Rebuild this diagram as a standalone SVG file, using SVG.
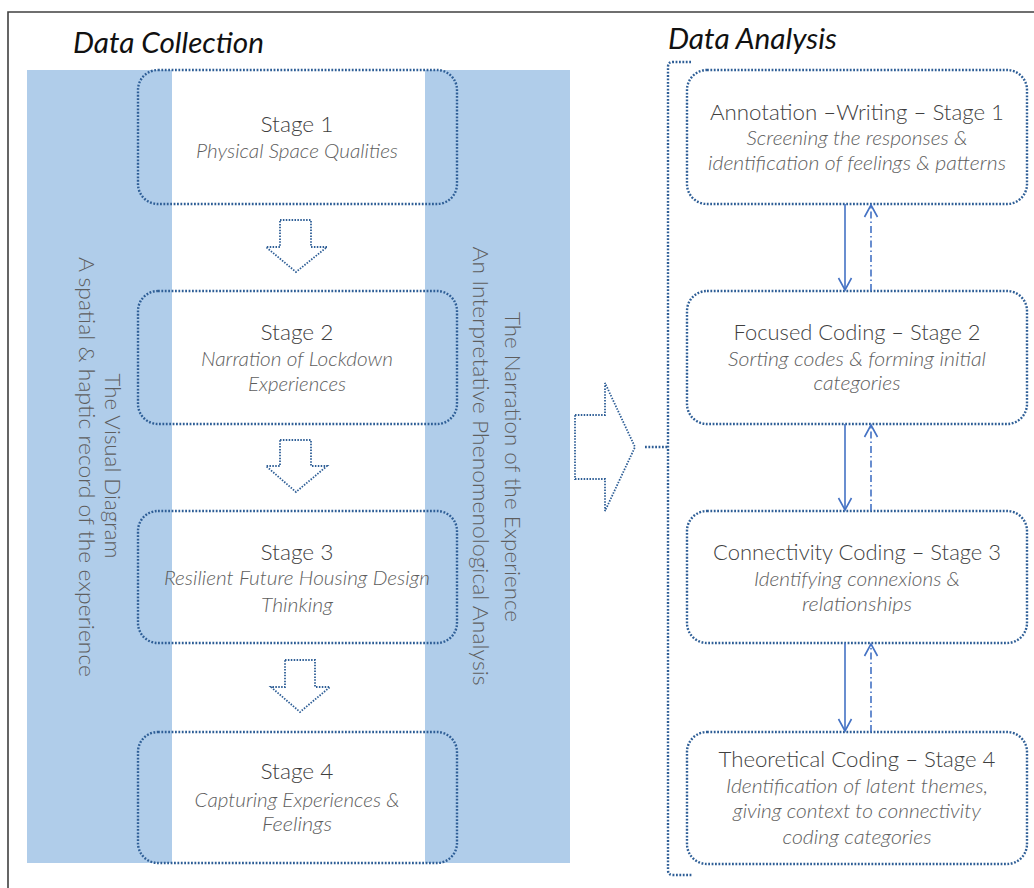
<svg xmlns="http://www.w3.org/2000/svg" width="1034" height="888" viewBox="0 0 1034 888">
<defs>
<style>
.frame{fill:none;stroke:#404040;stroke-width:1.6}
.band{fill:#B0CDEA}
.strip{fill:#FFFFFF}
.box{fill:none;stroke:#2E5E96;stroke-width:2.4;stroke-dasharray:1.8 1.6}
.harrow{fill:none;stroke:#2E5E96;stroke-width:1.8;stroke-dasharray:1.5 1.4}
.head{font-family:Lato,"Liberation Sans",sans-serif;font-style:italic;font-size:28px;fill:#111}
.ttl{font-family:Lato,"Liberation Sans",sans-serif;font-weight:300;font-size:22px;fill:#3F3F3F;text-anchor:middle}
.sub{font-family:Lato,"Liberation Sans",sans-serif;font-weight:300;font-style:italic;font-size:20px;fill:#5E5E5E;text-anchor:middle}
.vert{font-family:Lato,"Liberation Sans",sans-serif;font-weight:300;font-size:22px;fill:#5E5E5E;text-anchor:middle}
.solid{fill:none;stroke:#4472C4;stroke-width:1.6}
.dashdot{fill:none;stroke:#4472C4;stroke-width:1.6;stroke-dasharray:7 3 1.5 3}
</style>
<marker id="chev" markerUnits="userSpaceOnUse" markerWidth="16" markerHeight="16" viewBox="-14 -8 16 16" refX="0" refY="0" orient="auto">
<path d="M-12,-6.5 L0,0 L-12,6.5" fill="none" stroke="#4472C4" stroke-width="1.6"/>
</marker>
</defs>

<path class="frame" d="M8,888 V12 H1034"/>

<g id="collection-panel">
<rect class="band" x="27" y="70" width="543" height="793"/>
<rect class="strip" x="172" y="70" width="253" height="793"/>
<text class="head" x="73" y="53" textLength="191" lengthAdjust="spacingAndGlyphs">Data Collection</text>
</g>

<g id="visual-diagram-label">
<text class="vert" transform="translate(105,466) rotate(90)" textLength="185" lengthAdjust="spacingAndGlyphs">The Visual Diagram</text>
<text class="vert" transform="translate(79,467) rotate(90)" textLength="420" lengthAdjust="spacingAndGlyphs">A spatial &amp; haptic record of the experience</text>
</g>

<g id="narration-label">
<text class="vert" transform="translate(505,467) rotate(90)" textLength="310" lengthAdjust="spacingAndGlyphs">The Narration of the Experience</text>
<text class="vert" transform="translate(473,466) rotate(90)" textLength="439" lengthAdjust="spacingAndGlyphs">An Interpretative Phenomenological Analysis</text>
</g>

<g id="stage1">
<rect class="box" x="138" y="70" width="319" height="134" rx="20"/>
<text class="ttl" x="297" y="132" textLength="73" lengthAdjust="spacingAndGlyphs">Stage 1</text>
<text class="sub" x="297" y="158" textLength="202" lengthAdjust="spacingAndGlyphs">Physical Space Qualities</text>
</g>
<g id="stage2">
<rect class="box" x="138" y="291" width="319" height="133" rx="20"/>
<text class="ttl" x="297" y="340" textLength="73" lengthAdjust="spacingAndGlyphs">Stage 2</text>
<text class="sub" x="297" y="366" textLength="192" lengthAdjust="spacingAndGlyphs">Narration of Lockdown</text>
<text class="sub" x="297" y="391" textLength="98" lengthAdjust="spacingAndGlyphs">Experiences</text>
</g>
<g id="stage3">
<rect class="box" x="138" y="511" width="319" height="132" rx="20"/>
<text class="ttl" x="297" y="560" textLength="73" lengthAdjust="spacingAndGlyphs">Stage 3</text>
<text class="sub" x="297" y="585" textLength="266" lengthAdjust="spacingAndGlyphs">Resilient Future Housing Design</text>
<text class="sub" x="297" y="612" textLength="72" lengthAdjust="spacingAndGlyphs">Thinking</text>
</g>
<g id="stage4">
<rect class="box" x="138" y="732" width="319" height="131" rx="20"/>
<text class="ttl" x="297" y="779" textLength="73" lengthAdjust="spacingAndGlyphs">Stage 4</text>
<text class="sub" x="297" y="807" textLength="205" lengthAdjust="spacingAndGlyphs">Capturing Experiences &amp;</text>
<text class="sub" x="297" y="831" textLength="70" lengthAdjust="spacingAndGlyphs">Feelings</text>
</g>

<g id="analysis-title">
<text class="head" x="668" y="49" textLength="169" lengthAdjust="spacingAndGlyphs">Data Analysis</text>
</g>

<g id="analysis1">
<rect class="box" x="687" y="70" width="340" height="134" rx="20"/>
<text class="ttl" x="857" y="120" textLength="294" lengthAdjust="spacingAndGlyphs">Annotation –Writing – Stage 1</text>
<text class="sub" x="857" y="145" textLength="221" lengthAdjust="spacingAndGlyphs">Screening the responses &amp;</text>
<text class="sub" x="857" y="170" textLength="298" lengthAdjust="spacingAndGlyphs">identification of feelings &amp; patterns</text>
</g>
<g id="analysis2">
<rect class="box" x="687" y="291" width="340" height="133" rx="20"/>
<text class="ttl" x="857" y="340" textLength="247" lengthAdjust="spacingAndGlyphs">Focused Coding – Stage 2</text>
<text class="sub" x="857" y="366" textLength="258" lengthAdjust="spacingAndGlyphs">Sorting codes &amp; forming initial</text>
<text class="sub" x="857" y="390" textLength="87" lengthAdjust="spacingAndGlyphs">categories</text>
</g>
<g id="analysis3">
<rect class="box" x="687" y="511" width="340" height="132" rx="20"/>
<text class="ttl" x="857" y="560" textLength="288" lengthAdjust="spacingAndGlyphs">Connectivity Coding – Stage 3</text>
<text class="sub" x="857" y="586" textLength="206" lengthAdjust="spacingAndGlyphs">Identifying connexions &amp;</text>
<text class="sub" x="857" y="611" textLength="110" lengthAdjust="spacingAndGlyphs">relationships</text>
</g>
<g id="analysis4">
<rect class="box" x="687" y="732" width="340" height="132" rx="20"/>
<text class="ttl" x="857" y="767" textLength="277" lengthAdjust="spacingAndGlyphs">Theoretical Coding – Stage 4</text>
<text class="sub" x="857" y="793" textLength="262" lengthAdjust="spacingAndGlyphs">Identification of latent themes,</text>
<text class="sub" x="857" y="818" textLength="248" lengthAdjust="spacingAndGlyphs">giving context to connectivity</text>
<text class="sub" x="857" y="844" textLength="149" lengthAdjust="spacingAndGlyphs">coding categories</text>
</g>

<g id="connectors">
<path class="harrow" d="M280,220 H311 V247 H327 L296,272 L266,247 H280 Z"/>
<path class="harrow" d="M280,440 H311 V466 H327 L296,492 L266,466 H280 Z"/>
<path class="harrow" d="M285,660 H315 V687 H330 L300,712 L271,687 H285 Z"/>
<path class="harrow" d="M575,415 H605 V383 L635,447 L605,511 V479 H575 Z"/>
<path class="box" d="M691,62 H673 Q668,62 668,67 V870 Q668,875 673,875 H693"/>
<path class="box" d="M645,447 H668"/>
<path class="solid" d="M845,204 V290" marker-end="url(#chev)"/>
<path class="dashdot" d="M871,291 V205" marker-end="url(#chev)"/>
<path class="solid" d="M845,424 V510" marker-end="url(#chev)"/>
<path class="dashdot" d="M871,511 V425" marker-end="url(#chev)"/>
<path class="solid" d="M845,643 V731" marker-end="url(#chev)"/>
<path class="dashdot" d="M871,732 V644" marker-end="url(#chev)"/>
</g>
</svg>
